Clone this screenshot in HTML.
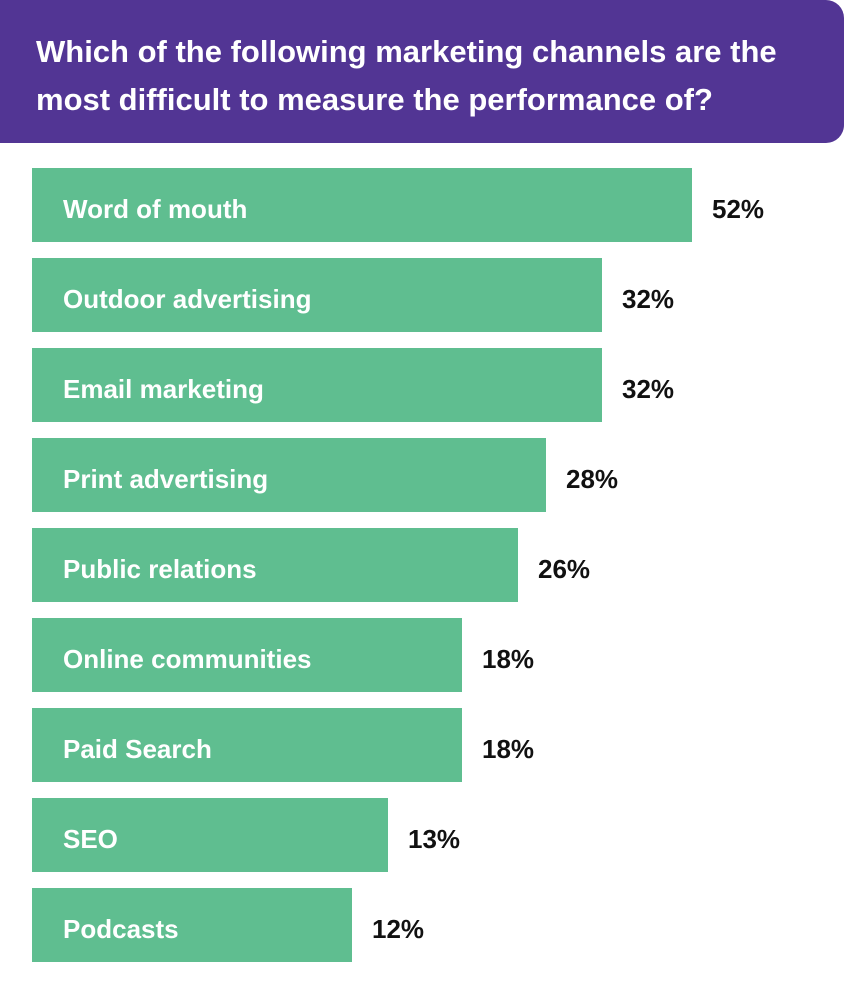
<!DOCTYPE html>
<html><head><meta charset="utf-8"><style>
html,body{margin:0;padding:0;background:#fff;width:868px;height:996px;overflow:hidden;font-family:"Liberation Sans",sans-serif}
#header{position:absolute;left:0;top:0;width:844px;height:143px;background:#523594;border-radius:0 18px 18px 0}
#title{position:absolute;left:36px;top:28px;color:#fff;font-weight:bold;font-size:31px;line-height:48px;margin:0;white-space:nowrap}
</style></head><body>
<div id="header">
<h1 id="title">Which of the following marketing channels are the<br>most difficult to measure the performance of?</h1>
</div>
<svg id="chart" width="868" height="996" style="position:absolute;left:0;top:0"></svg>
<script>
const categories=["Word of mouth","Outdoor advertising","Email marketing","Print advertising","Public relations","Online communities","Paid Search","SEO","Podcasts"];
const values=[52,32,32,28,26,18,18,13,12];
const valueLabels=["52%","32%","32%","28%","26%","18%","18%","13%","12%"];
const dom=[0,12,13,18,26,28,32,52], rng=[0,320,356,430,486,514,570,660];
function xScale(v){for(let i=1;i<dom.length;i++){if(v<=dom[i]||i==dom.length-1){const t=(v-dom[i-1])/(dom[i]-dom[i-1]);return rng[i-1]+t*(rng[i]-rng[i-1]);}}}
function yScale(i){return 168+i*90;}
const svg=document.getElementById('chart');const NS='http://www.w3.org/2000/svg';
categories.forEach((c,i)=>{
const y=yScale(i),w=xScale(values[i]);
const r=document.createElementNS(NS,'rect');
r.setAttribute('x',32);r.setAttribute('y',y);r.setAttribute('width',w);r.setAttribute('height',74);r.setAttribute('fill','#5fbe90');


svg.appendChild(r);
const t=document.createElementNS(NS,'text');
t.setAttribute('x',63);t.setAttribute('y',y+50);t.setAttribute('fill','#fff');t.setAttribute('font-size','26');t.setAttribute('font-weight','bold');t.setAttribute('font-family','Liberation Sans, sans-serif');
t.textContent=c;


svg.appendChild(t);
const v=document.createElementNS(NS,'text');
v.setAttribute('x',32+w+20);v.setAttribute('y',y+50);v.setAttribute('fill','#111');v.setAttribute('font-size','26');v.setAttribute('font-weight','bold');v.setAttribute('font-family','Liberation Sans, sans-serif');
v.textContent=valueLabels[i];


svg.appendChild(v);
});
</script>
</body></html>
